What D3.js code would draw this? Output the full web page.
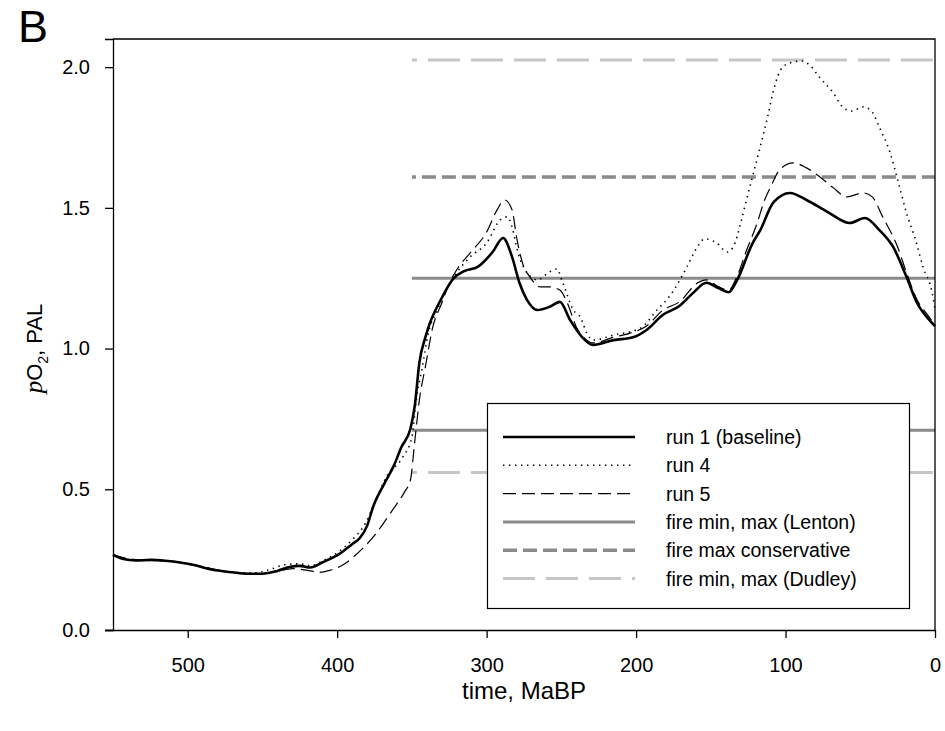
<!DOCTYPE html>
<html>
<head>
<meta charset="utf-8">
<script src="https://cdn.jsdelivr.net/npm/d3@7"></script>
<style>
  body { margin: 0; background: #fff; }
  text { font-family: "Liberation Sans", Arial, sans-serif; }
</style>
</head>
<body>
<script>
// run 1 (baseline)
const run1Time = [550,543,535,525,515,505,495,485,470,460,450,440,432,425,418,410,398,390,385,380,376,369,362,357,351,348,345,341,338,331,322,315,306,296,289,283,278,273,266,258,251,244,236,229,215,202,193,182,171,162,153,145,138,133,122,117,108,97,86,72,57,47,37,28,19,12,5,0];
const run1Vals = [0.267,0.252,0.247,0.249,0.246,0.240,0.230,0.216,0.205,0.200,0.200,0.210,0.224,0.228,0.222,0.240,0.272,0.305,0.326,0.370,0.437,0.515,0.585,0.650,0.715,0.800,0.950,1.040,1.090,1.170,1.250,1.275,1.290,1.343,1.393,1.326,1.233,1.173,1.137,1.148,1.166,1.100,1.040,1.013,1.030,1.040,1.066,1.120,1.151,1.197,1.234,1.215,1.200,1.237,1.375,1.420,1.520,1.553,1.528,1.486,1.446,1.464,1.420,1.361,1.254,1.162,1.109,1.080];

// run 4
const run4Time = [550,535,515,495,470,455,445,435,425,418,410,400,390,381,375,367,356,350,347,343,339,333,326,320,311,300,291,286,283,279,273,266,258,253,249,242,237,233,229,215,197,186,177,166,159,154,146,139,135,130,127,117,112,108,102,95,89,84,77,68,62,56,48,42,37,30,25,19,13,8,2,0];
const run4Vals = [0.267,0.248,0.246,0.230,0.205,0.203,0.215,0.232,0.235,0.228,0.245,0.275,0.320,0.380,0.450,0.545,0.615,0.686,0.820,0.935,1.055,1.137,1.220,1.270,1.326,1.375,1.457,1.468,1.432,1.340,1.270,1.244,1.272,1.283,1.233,1.137,1.109,1.055,1.030,1.048,1.073,1.137,1.190,1.290,1.361,1.390,1.375,1.343,1.361,1.446,1.510,1.716,1.823,1.919,2.000,2.018,2.022,2.008,1.962,1.908,1.859,1.844,1.859,1.840,1.784,1.695,1.600,1.480,1.386,1.290,1.200,1.140];

// run 5
const run5Time = [550,535,515,495,470,455,440,430,420,412,405,395,389,376,363,355,351,348,345,341,336,330,326,320,311,300,293,288,283,280,276,271,264,258,251,246,240,233,229,215,204,193,182,171,159,153,145,138,133,126,119,114,110,104,95,86,77,68,59,48,42,35,25,19,12,5,0];
const run5Vals = [0.267,0.250,0.246,0.230,0.205,0.200,0.208,0.218,0.212,0.205,0.212,0.235,0.260,0.330,0.426,0.490,0.533,0.675,0.817,0.935,1.077,1.162,1.219,1.280,1.340,1.414,1.493,1.528,1.493,1.397,1.304,1.254,1.219,1.219,1.208,1.162,1.077,1.030,1.020,1.040,1.055,1.080,1.137,1.166,1.233,1.244,1.220,1.208,1.250,1.350,1.446,1.528,1.574,1.635,1.660,1.642,1.610,1.571,1.539,1.553,1.539,1.468,1.361,1.269,1.173,1.120,1.085];

// fire thresholds, drawn from 350 Ma to present
const limitSpan = [350, 0];
const lentonLimits = [0.71, 1.25];
const conservativeMax = [1.61];
const dudleyLimits = [0.56, 2.025];

const xTicks = [500, 400, 300, 200, 100, 0];
const yTicks = [0.0, 0.5, 1.0, 1.5, 2.0];

const legendLabels = ["run 1 (baseline)", "run 4", "run 5", "fire min, max (Lenton)", "fire max conservative", "fire min, max (Dudley)"];

const width = 945, height = 731;
const margin = {left: 113, right: 10, top: 39, bottom: 101};

const svg = d3.select("body").append("svg")
    .attr("width", width)
    .attr("height", height);

const x = d3.scaleLinear().domain([550, 0]).range([margin.left, width - margin.right]);
const y = d3.scaleLinear().domain([0, 2.1]).range([height - margin.bottom, margin.top]);

// styles
const styles = {
  run1: {stroke: "#000", width: 2.6, dash: null},
  run4: {stroke: "#000", width: 1.6, dash: "1.4,4.6"},
  run5: {stroke: "#000", width: 1.2, dash: "13,6"},
  lenton: {stroke: "#8a8a8a", width: 3, dash: null},
  cons: {stroke: "#8a8a8a", width: 3.5, dash: "14,6", offset: 10},
  dudley: {stroke: "#c6c6c6", width: 3, dash: "32,11", offset: 27}
};

// threshold lines
const hLine = (v, st) => {
  svg.append("line")
      .attr("x1", x(limitSpan[0])).attr("x2", x(limitSpan[1]))
      .attr("y1", y(v)).attr("y2", y(v))
      .attr("stroke", st.stroke)
      .attr("stroke-width", st.width)
      .attr("stroke-dasharray", st.dash)
      .attr("stroke-dashoffset", st.offset || 0);
};
dudleyLimits.forEach(v => hLine(v, styles.dudley));
conservativeMax.forEach(v => hLine(v, styles.cons));
lentonLimits.forEach(v => hLine(v, styles.lenton));

// model runs
const lineFn = d3.line()
    .x(d => x(d[0]))
    .y(d => y(d[1]))
    .curve(d3.curveMonotoneX);

const drawRun = (times, vals, st) => {
  svg.append("path")
      .attr("d", lineFn(d3.zip(times, vals)))
      .attr("fill", "none")
      .attr("stroke", st.stroke)
      .attr("stroke-width", st.width)
      .attr("stroke-dasharray", st.dash)
      .attr("stroke-linejoin", "round");
};
drawRun(run5Time, run5Vals, styles.run5);
drawRun(run4Time, run4Vals, styles.run4);
drawRun(run1Time, run1Vals, styles.run1);

// frame
svg.append("path")
    .attr("d", `M${x(550)},${y(2.1)}H${x(0)}V${y(0)}`)
    .attr("fill", "none")
    .attr("stroke", "#000")
    .attr("stroke-width", 1.3);

// axes
const xAxis = svg.append("g")
    .attr("transform", `translate(0,${y(0)})`)
    .call(d3.axisBottom(x).tickValues(xTicks).tickFormat(d3.format("d")).tickSize(8).tickPadding(20));
xAxis.select(".domain").attr("d", `M${x(550) - 8},0.5H${x(0)}`);

const yAxis = svg.append("g")
    .attr("transform", `translate(${x(550)},0)`)
    .call(d3.axisLeft(y).tickValues(yTicks).tickFormat(d3.format(".1f")).tickSize(8).tickPadding(15));

[xAxis, yAxis].forEach(g => {
  g.selectAll(".domain").attr("stroke", "#000").attr("stroke-width", 1.3);
  g.selectAll(".tick line").attr("stroke", "#000").attr("stroke-width", 1.3);
  g.selectAll("text")
      .attr("font-family", "'Liberation Sans', Arial, sans-serif")
      .attr("font-size", 20)
      .attr("fill", "#000");
});

// axis titles
svg.append("text")
    .attr("x", (x(550) + x(0)) / 2)
    .attr("y", 699)
    .attr("text-anchor", "middle")
    .attr("font-size", 24)
    .text("time, MaBP");

const yTitle = svg.append("text")
    .attr("transform", `translate(42,${y(1.0)}) rotate(-90)`)
    .attr("text-anchor", "middle")
    .attr("font-size", 22);
yTitle.append("tspan")
    .attr("font-family", "'Liberation Serif', 'Times New Roman', serif")
    .attr("font-style", "italic")
    .attr("font-size", 25)
    .text("p");
yTitle.append("tspan").text("O");
yTitle.append("tspan").attr("font-size", 14).attr("dy", 6).text("2");
yTitle.append("tspan").attr("dy", -6).text(", PAL");

// panel letter
svg.append("text")
    .attr("x", 18)
    .attr("y", 42)
    .attr("font-size", 45)
    .text("B");

// legend
const legend = svg.append("g");
legend.append("rect")
    .attr("x", 487.5).attr("y", 403.5)
    .attr("width", 422).attr("height", 205)
    .attr("fill", "#fff")
    .attr("stroke", "#000")
    .attr("stroke-width", 1.2);

const legendStyles = [styles.run1, styles.run4, styles.run5, styles.lenton, styles.cons, styles.dudley];
legendLabels.forEach((label, i) => {
  const ly = 437 + i * 28.3;
  const st = legendStyles[i];
  legend.append("line")
      .attr("x1", 503).attr("x2", 635)
      .attr("y1", ly).attr("y2", ly)
      .attr("stroke", st.stroke)
      .attr("stroke-width", st.width)
      .attr("stroke-dasharray", st.dash);
  legend.append("text")
      .attr("x", 666)
      .attr("y", ly + 7)
      .attr("font-size", 19.5)
      .text(label);
});
</script>
</body>
</html>
